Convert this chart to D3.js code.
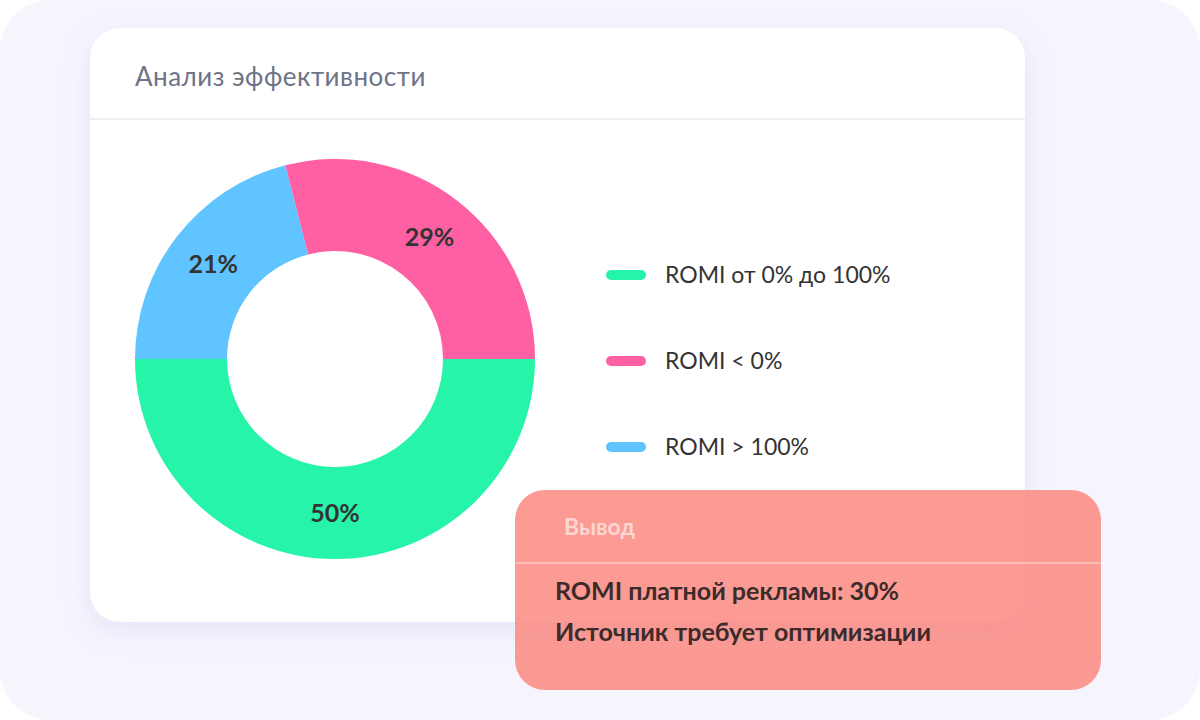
<!DOCTYPE html>
<html><head><meta charset="utf-8">
<script src="https://cdn.jsdelivr.net/npm/d3@7"></script>
<style>body{margin:0;background:#fff}svg{display:block;font-family:Lato,"Noto Sans",sans-serif}</style>
</head><body>
<svg id="chart" width="1200" height="720"></svg>
<script>
// data
var labels = ["ROMI от 0% до 100%", "ROMI > 100%", "ROMI < 0%"];
var values = [50, 21, 29];
var colors = ["#25f4a9", "#5fc4ff", "#ff5fa3"];
var legendOrder = [0, 2, 1];
var conclusion = ["ROMI платной рекламы: 30%", "Источник требует оптимизации"];

var svg = d3.select("#chart");
var defs = svg.append("defs");
var f = defs.append("filter").attr("id", "sh").attr("x", "-10%").attr("y", "-10%").attr("width", "120%").attr("height", "130%");
f.append("feDropShadow").attr("dx", 0).attr("dy", 8).attr("stdDeviation", 12).attr("flood-color", "#b8b0e8").attr("flood-opacity", 0.25);

svg.append("rect").attr("width", 1200).attr("height", 720).attr("rx", 50).attr("fill", "#f6f4fd");

// card
svg.append("rect").attr("x", 90).attr("y", 28).attr("width", 935).attr("height", 594).attr("rx", 30)
	.attr("fill", "#fff").attr("filter", "url(#sh)");
svg.append("text").attr("x", 135).attr("y", 86).attr("font-size", 26).attr("fill", "#6e7388")
	.attr("letter-spacing", 0.5).text("Анализ эффективности");
svg.append("line").attr("x1", 90).attr("x2", 1025).attr("y1", 119).attr("y2", 119).attr("stroke", "#eeeef4").attr("stroke-width", 2);

// donut
var pie = d3.pie().sort(null).startAngle(Math.PI / 2).endAngle(Math.PI * 2.5);
var arc = d3.arc().innerRadius(108).outerRadius(200);
var lblArc = d3.arc().innerRadius(154).outerRadius(154);
var g = svg.append("g").attr("transform", "translate(335,359)");
var arcs = pie(values);
g.selectAll("path").data(arcs).enter().append("path").attr("d", arc).attr("fill", function(d, i) { return colors[i]; });
g.selectAll("text").data(arcs).enter().append("text")
	.attr("transform", function(d) { return "translate(" + lblArc.centroid(d) + ")"; })
	.attr("text-anchor", "middle").attr("dy", "0.35em").attr("font-size", 25).attr("font-weight", 700).attr("fill", "#333")
	.text(function(d) { return d.data + "%"; });

// legend
var ly = d3.scalePoint().domain(legendOrder).range([275, 447]);
var lg = svg.append("g").selectAll("g").data(legendOrder).enter().append("g")
	.attr("transform", function(d) { return "translate(0," + ly(d) + ")"; });
lg.append("rect").attr("x", 606).attr("y", -5).attr("width", 40).attr("height", 10).attr("rx", 5)
	.attr("fill", function(d) { return colors[d]; });
lg.append("text").attr("x", 665).attr("dy", "0.35em").attr("font-size", 23).attr("fill", "#333")
	.text(function(d) { return labels[d]; });

// conclusion box
svg.append("rect").attr("x", 515).attr("y", 490).attr("width", 586).attr("height", 200).attr("rx", 30)
	.attr("fill", "#fa8a80").attr("fill-opacity", 0.85);
svg.append("text").attr("x", 564).attr("y", 535).attr("font-size", 23).attr("font-weight", 700)
	.attr("fill", "#fff").attr("fill-opacity", 0.6).text("Вывод");
svg.append("line").attr("x1", 515).attr("x2", 1101).attr("y1", 563).attr("y2", 563)
	.attr("stroke", "#fff").attr("stroke-opacity", 0.35).attr("stroke-width", 2);
svg.append("g").selectAll("text").data(conclusion).enter().append("text")
	.attr("x", 555).attr("y", function(d, i) { return 600 + i * 41; })
	.attr("font-size", 25).attr("font-weight", 700).attr("fill", "#3d2b2b").text(function(d) { return d; });
</script>
</body></html>
